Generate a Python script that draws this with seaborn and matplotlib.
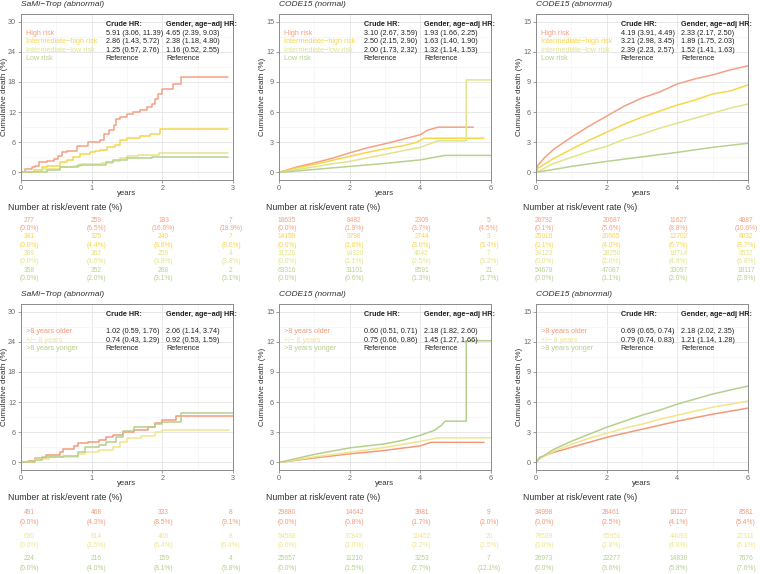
import numpy as np
import pandas as pd
import seaborn as sns
import matplotlib.pyplot as plt

sns.set_theme(style="white")
plt.rcParams['font.family'] = ['Liberation Sans', 'DejaVu Sans']

# %%
# groups and colours
risk_groups = ["High risk", "Intermediate\u2212high risk", "Intermediate\u2212low risk", "Low risk"]
risk_colors = ["#F4A184", "#F7D64A", "#E2E48A", "#B7D28E"]
age_groups = [">8 years older", "+/\u2212 8 years", ">8 years yonger"]
age_colors = ["#F29A7A", "#F2E48C", "#B5D08C"]

titles = ["SaMi\u2212Trop (abnormal)", "CODE15 (normal)", "CODE15 (abnormal)"]

# %%
# cumulative death curves (times in years, values in %)
sami_risk_t = [
    [0, 0.06, 0.15, 0.2, 0.25, 0.37, 0.46, 0.53, 0.58, 0.65, 0.79, 0.95, 1.12, 1.17, 1.24, 1.31, 1.35, 1.4,
     1.5, 1.59, 1.68, 1.78, 1.85, 1.9, 1.94, 1.99, 2.15, 2.27, 2.93],
    [0, 0.18, 0.3, 0.37, 0.55, 0.65, 0.74, 0.84, 0.98, 1.05, 1.12, 1.21, 1.33, 1.4, 1.5, 1.68, 1.82, 1.97, 2.93],
    [0, 0.2, 0.3, 0.55, 0.75, 0.85, 1.15, 1.3, 1.4, 1.5, 1.65, 1.95, 2.93],
    [0, 0.37, 0.55, 0.8, 1.2, 1.3, 1.5, 1.85, 2.93],
]
sami_risk_y = [
    [0, 0.7, 1.0, 1.3, 2.0, 2.2, 2.6, 3.3, 4.0, 4.3, 5.3, 6.0, 6.5, 7.6, 8.4, 9.5, 10.6, 11.1,
     11.6, 12.0, 12.5, 13.1, 13.7, 14.6, 15.6, 16.5, 17.5, 18.9, 18.9],
    [0, 0.5, 1.0, 1.3, 2.0, 2.5, 3.0, 3.7, 4.0, 4.3, 4.5, 5.0, 5.5, 6.4, 6.9, 7.3, 7.6, 8.6, 8.6],
    [0, 0.3, 0.7, 1.0, 1.3, 1.6, 1.9, 2.3, 2.8, 3.2, 3.5, 3.8, 3.8],
    [0, 0.5, 1.0, 1.5, 2.0, 2.5, 2.8, 3.1, 3.1],
]

code_norm_risk_t = [
    [0, 0.5, 1, 1.5, 2, 2.5, 3, 3.5, 4, 4.2, 4.5, 5.5],
    [0, 0.5, 1, 1.5, 2, 2.5, 3, 3.5, 3.9, 4.1, 5.8],
    [0, 0.5, 1, 1.5, 2, 2.5, 3, 3.5, 4, 4.5, 5.3, 5.3, 6],
    [0, 1, 2, 3, 4, 4.7, 6],
]
code_norm_risk_y = [
    [0, 0.55, 0.95, 1.4, 1.95, 2.45, 2.85, 3.3, 3.75, 4.2, 4.5, 4.5],
    [0, 0.45, 0.8, 1.2, 1.6, 2.0, 2.35, 2.65, 3.0, 3.4, 3.4],
    [0, 0.3, 0.55, 0.85, 1.1, 1.45, 1.8, 2.15, 2.5, 3.15, 3.15, 9.2, 9.2],
    [0, 0.3, 0.6, 0.9, 1.25, 1.7, 1.7],
]

code_abn_risk_t = [
    [0, 0.05, 0.25, 0.5, 1, 1.5, 2, 2.5, 3, 3.5, 4, 4.5, 5, 5.5, 6],
    [0, 0.05, 0.5, 1, 1.5, 2, 2.5, 3, 3.5, 4, 4.5, 5, 5.5, 6],
    [0, 0.5, 1, 1.5, 2, 2.5, 3, 3.5, 4, 4.5, 5, 5.5, 6],
    [0, 1, 2, 3, 4, 5, 6],
]
code_abn_risk_y = [
    [0, 0.7, 1.5, 2.3, 3.5, 4.6, 5.6, 6.6, 7.4, 8.0, 8.8, 9.3, 9.7, 10.2, 10.6],
    [0, 0.4, 1.4, 2.3, 3.2, 4.0, 4.8, 5.5, 6.1, 6.7, 7.2, 7.8, 8.1, 8.7],
    [0, 0.9, 1.5, 2.1, 2.6, 3.3, 3.8, 4.4, 4.9, 5.4, 5.9, 6.4, 6.8],
    [0, 0.6, 1.1, 1.55, 2.0, 2.5, 2.9],
]

sami_age_t = [
    [0, 0.1, 0.2, 0.35, 0.55, 0.6, 0.75, 0.8, 0.95, 1.1, 1.2, 1.3, 1.45, 1.6, 1.8, 1.9, 2.0, 2.2, 3.0],
    [0, 0.2, 0.4, 0.8, 0.9, 1.1, 1.3, 1.4, 1.5, 1.7, 1.9, 2.0, 2.95],
    [0, 0.2, 0.3, 0.6, 0.8, 0.9, 1.1, 1.2, 1.35, 1.45, 1.6, 1.9, 2.0, 2.27, 3.0],
]
sami_age_y = [
    [0, 0.3, 0.8, 1.5, 2.0, 2.6, 3.3, 3.8, 4.1, 4.4, 5.0, 5.5, 6.0, 6.5, 7.0, 7.8, 8.4, 9.2, 9.2],
    [0, 0.6, 1.1, 1.6, 2.0, 2.4, 3.0, 4.0, 4.8, 5.3, 6.0, 6.4, 6.4],
    [0, 0.5, 1.0, 1.3, 2.0, 3.0, 3.5, 4.0, 5.0, 6.3, 7.0, 7.6, 8.1, 9.9, 9.9],
]

code_norm_age_t = [
    [0, 1, 2, 3, 4, 4.3, 5.8],
    [0, 1, 2, 3, 4, 4.5, 6],
    [0, 1, 2, 3, 3.5, 4, 4.4, 4.6, 4.7, 5.3, 5.3, 6],
]
code_norm_age_y = [
    [0, 0.45, 0.85, 1.2, 1.65, 2.0, 2.0],
    [0, 0.55, 1.0, 1.5, 2.1, 2.45, 2.45],
    [0, 0.8, 1.45, 1.85, 2.2, 2.7, 3.2, 3.7, 4.1, 4.1, 12.1, 12.1],
]

code_abn_age_t = [
    [0, 0.1, 0.5, 1, 1.5, 2, 2.5, 3, 3.5, 4, 4.5, 5, 5.5, 6],
    [0, 0.1, 0.5, 1, 1.5, 2, 2.5, 3, 3.5, 4, 4.5, 5, 5.5, 6],
    [0, 0.1, 0.5, 1, 1.5, 2, 2.5, 3, 3.5, 4, 4.5, 5, 5.5, 6],
]
code_abn_age_y = [
    [0, 0.5, 1.0, 1.5, 2.0, 2.5, 2.9, 3.3, 3.7, 4.1, 4.45, 4.8, 5.1, 5.4],
    [0, 0.4, 1.1, 1.8, 2.4, 2.9, 3.4, 3.8, 4.3, 4.7, 5.1, 5.5, 5.8, 6.1],
    [0, 0.4, 1.3, 2.1, 2.8, 3.5, 4.1, 4.7, 5.2, 5.8, 6.3, 6.8, 7.2, 7.6],
]

# %%
# hazard ratios
sami_risk_crude = ["5.91 (3.06, 11.39)", "2.86 (1.43, 5.72)", "1.25 (0.57, 2.76)", "Reference"]
sami_risk_adj = ["4.65 (2.39, 9.03)", "2.38 (1.18, 4.80)", "1.16 (0.52, 2.55)", "Reference"]
code_norm_risk_crude = ["3.10 (2.67, 3.59)", "2.50 (2.15, 2.90)", "2.00 (1.73, 2.32)", "Reference"]
code_norm_risk_adj = ["1.93 (1.66, 2.25)", "1.63 (1.40, 1.90)", "1.32 (1.14, 1.53)", "Reference"]
code_abn_risk_crude = ["4.19 (3.91, 4.49)", "3.21 (2.98, 3.45)", "2.39 (2.23, 2.57)", "Reference"]
code_abn_risk_adj = ["2.33 (2.17, 2.50)", "1.89 (1.75, 2.03)", "1.52 (1.41, 1.63)", "Reference"]
sami_age_crude = ["1.02 (0.59, 1.76)", "0.74 (0.43, 1.29)", "Reference"]
sami_age_adj = ["2.06 (1.14, 3.74)", "0.92 (0.53, 1.59)", "Reference"]
code_norm_age_crude = ["0.60 (0.51, 0.71)", "0.75 (0.66, 0.86)", "Reference"]
code_norm_age_adj = ["2.18 (1.82, 2.60)", "1.45 (1.27, 1.66)", "Reference"]
code_abn_age_crude = ["0.69 (0.65, 0.74)", "0.79 (0.74, 0.83)", "Reference"]
code_abn_age_adj = ["2.18 (2.02, 2.35)", "1.21 (1.14, 1.28)", "Reference"]

# %%
# number at risk / event rate tables
sami_risk_n = [[277, 259, 183, 7], [341, 325, 240, 7], [369, 362, 259, 4], [358, 352, 268, 2]]
sami_risk_ev = [[0.0, 6.5, 16.6, 18.9], [0.0, 4.4, 8.6, 8.6], [0.0, 1.6, 3.8, 3.8], [0.0, 2.0, 3.1, 3.1]]
code_norm_risk_n = [[18635, 8482, 2309, 5], [14159, 9798, 2744, 3], [31226, 14320, 4042, 7], [63316, 31101, 8591, 21]]
code_norm_risk_ev = [[0.0, 1.9, 3.7, 4.5], [0.0, 1.6, 3.0, 3.4], [0.0, 1.1, 2.5, 3.2], [0.0, 0.6, 1.3, 1.7]]
code_abn_risk_n = [[26792, 20687, 11627, 4887], [25916, 20665, 12702, 6032], [34123, 28250, 18714, 9532],
                   [54678, 47087, 33097, 18117]]
code_abn_risk_ev = [[0.1, 5.6, 8.8, 10.6], [0.1, 4.0, 6.7, 8.7], [0.0, 2.6, 4.9, 6.8], [0.0, 1.1, 2.0, 2.9]]
sami_age_n = [[491, 468, 333, 8], [630, 614, 468, 8], [224, 216, 159, 4]]
sami_age_ev = [[0.0, 4.3, 8.5, 9.1], [0.0, 2.5, 6.4, 6.4], [0.0, 4.0, 8.1, 9.8]]
code_norm_age_n = [[29880, 14642, 3981, 9], [54588, 37849, 10452, 20], [25657, 11210, 3253, 7]]
code_norm_age_ev = [[0.0, 0.8, 1.7, 2.0], [0.0, 1.0, 2.2, 2.5], [0.0, 1.5, 2.7, 12.1]]
code_abn_age_n = [[34998, 28461, 18127, 8581], [79539, 65951, 44093, 22311], [26973, 22277, 14830, 7676]]
code_abn_age_ev = [[0.0, 2.5, 4.1, 5.4], [0.0, 2.8, 4.8, 6.1], [0.0, 3.6, 5.8, 7.6]]

# %%
W, H = 760, 574
fig = plt.figure(figsize=(W / 100, H / 100), dpi=100)
fig.patch.set_facecolor("white")


def rect(left, top, width, height):
    return [left / W, 1 - (top + height) / H, width / W, height / H]


col_left = [21, 279, 536]
row_top = [14, 304]
ax_w, ax_h = 212, 166


def km_panel(ax, times, values, colors, groups, crude, adj, tmax, ymax, steps, title, first_row):
    for t, y, c in zip(times, values, colors):
        kw = dict(drawstyle="steps-post") if steps else {}
        sns.lineplot(x=t, y=y, ax=ax, color=c, lw=1.1, estimator=None, sort=False, **kw)
    ax.set_xlim(0, tmax)
    ax.set_ylim(-0.05 * ymax, 1.05 * ymax)
    xstep = tmax / 3
    ax.set_xticks(np.arange(0, tmax + 0.01, xstep))
    ax.set_xticks(np.arange(xstep / 2, tmax, xstep), minor=True)
    ax.set_xticklabels([f"{v:g}" for v in np.arange(0, tmax + 0.01, xstep)])
    ystep = ymax / 5
    ax.set_yticks(np.arange(0, ymax + 0.01, ystep))
    ax.set_yticks(np.arange(ystep / 2, ymax, ystep), minor=True)
    ax.set_yticklabels([f"{v:g}" for v in np.arange(0, ymax + 0.01, ystep)])
    ax.grid(which="major", color="#E4E4E4", lw=0.6)
    ax.grid(which="minor", color="#F2F2F2", lw=0.4)
    ax.set_axisbelow(True)
    ax.tick_params(which="major", length=2, width=0.5, color="#777777", pad=1.5,
                   labelsize=5.2, labelcolor="#6A6A6A", bottom=True, left=True)
    ax.tick_params(which="minor", length=0)
    for s in ax.spines.values():
        s.set_color("#8C8C8C")
        s.set_linewidth(0.7)
    ax.set_xlabel("years", fontsize=5.6, color="#333333")
    ax.xaxis.set_label_coords(0.5, -0.06)
    ax.set_ylabel("Cumulative death (%)", fontsize=5.9, color="#333333")
    ax.yaxis.set_label_coords(-0.062, 0.5)
    ax.text(0, 1 + 9 / ax_h, title, transform=ax.transAxes, ha="left", va="center",
            fontsize=6.0, style="italic", color="#333333")

    # HR annotation
    dy = 8.4 / ax_h
    y0 = 1 - 11 / ax_h
    ax.text(0.40, y0, "Crude HR:", transform=ax.transAxes, fontsize=5.2, weight="bold", va="center", color="#222222")
    ax.text(0.686, y0, "Gender, age\u2212adj HR:", transform=ax.transAxes, fontsize=5.2, weight="bold",
            va="center", color="#222222")
    offset = 1 if first_row else 2
    for i, (g, c, a, b) in enumerate(zip(groups, colors, crude, adj)):
        yy = y0 - (i + offset) * dy
        ax.text(0.025, yy, g, transform=ax.transAxes, fontsize=5.2, color=c, va="center")
        ax.text(0.40, yy, a, transform=ax.transAxes, fontsize=5.2, color="#222222", va="center")
        ax.text(0.686, yy, b, transform=ax.transAxes, fontsize=5.2, color="#222222", va="center")


def risk_table(ax, n, ev, colors, tmax, line_y):
    ax.set_xlim(-0.04 * tmax, 1.01 * tmax)
    ax.set_ylim(1, 0)
    ax.axis("off")
    cols = np.linspace(0, tmax, 4)
    for gi, (nn, ee, c) in enumerate(zip(n, ev, colors)):
        for x, a, b in zip(cols, nn, ee):
            ax.text(x, line_y[gi][0], f"{a}", ha="center", va="center", fontsize=4.8, color=c)
            ax.text(x, line_y[gi][1], f"({b:.1f}%)", ha="center", va="center", fontsize=4.8, color=c)


panels = [
    (sami_risk_t, sami_risk_y, sami_risk_crude, sami_risk_adj, sami_risk_n, sami_risk_ev, 3, 30, True),
    (code_norm_risk_t, code_norm_risk_y, code_norm_risk_crude, code_norm_risk_adj, code_norm_risk_n,
     code_norm_risk_ev, 6, 15, False),
    (code_abn_risk_t, code_abn_risk_y, code_abn_risk_crude, code_abn_risk_adj, code_abn_risk_n,
     code_abn_risk_ev, 6, 15, False),
    (sami_age_t, sami_age_y, sami_age_crude, sami_age_adj, sami_age_n, sami_age_ev, 3, 30, True),
    (code_norm_age_t, code_norm_age_y, code_norm_age_crude, code_norm_age_adj, code_norm_age_n,
     code_norm_age_ev, 6, 15, False),
    (code_abn_age_t, code_abn_age_y, code_abn_age_crude, code_abn_age_adj, code_abn_age_n,
     code_abn_age_ev, 6, 15, False),
]

for k, (tt, yy, crude, adj, n, ev, tmax, ymax, steps) in enumerate(panels):
    row, col = divmod(k, 3)
    left = col_left[col]
    top = row_top[row]
    ax = fig.add_axes(rect(left, top, ax_w, ax_h))
    first = row == 0
    groups = risk_groups if first else age_groups
    colors = risk_colors if first else age_colors
    km_panel(ax, tt, yy, colors, groups, crude, adj, tmax, ymax, steps, titles[col], first)

    # table
    if first:
        t_top, t_h = 212, 72
        line_px = [(220 + 16.8 * g, 228.4 + 16.8 * g) for g in range(4)]
        head_y = 208
    else:
        t_top, t_h = 505, 68
        line_px = [(513 + 23 * g, 522.5 + 23 * g) for g in range(3)]
        head_y = 498
    tax = fig.add_axes(rect(left, t_top, ax_w, t_h))
    line_y = [((a - t_top) / t_h, (b - t_top) / t_h) for a, b in line_px]
    risk_table(tax, n, ev, colors, tmax, line_y)
    fig.text((left - 13) / W, 1 - head_y / H, "Number at risk/event rate (%)", ha="left", va="center",
             fontsize=6.3, color="#333333")

plt.savefig("out.png", dpi=100, facecolor="white")
